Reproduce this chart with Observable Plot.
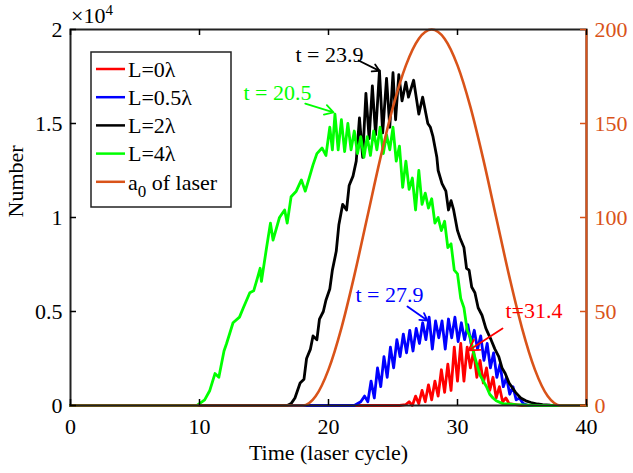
<!DOCTYPE html>
<html><head><meta charset="utf-8">
<script src="https://cdn.jsdelivr.net/npm/d3@7"></script>
<script src="https://cdn.jsdelivr.net/npm/@observablehq/plot@0.6"></script>
<style>body{margin:0;background:#fff}</style>
</head><body><div id="chart"></div>
<script>
// ---- tick labels ----
const xTicks = [0, 10, 20, 30, 40];
const yTicks = [0, 0.5, 1, 1.5, 2];          // Number, in units of 10^4
const a0Ticks = [0, 50, 100, 150, 200];      // right axis (a0 of laser)

// ---- series names / colours ----
const seriesNames = ["L=0λ", "L=0.5λ", "L=2λ", "L=4λ"];
const seriesColors = ["#FF0000", "#0000FF", "#000000", "#00FF00"];
const laserColor = "#D95319";

// ---- L = 0λ (red), Number ×10^4 ----
const t_L0 = [0,25.5,26.0,26.25,26.5,26.75,27.0,27.25,27.5,27.75,28.0,28.25,28.5,28.75,29.0,29.25,29.5,29.75,30.0,30.25,30.5,30.75,31.0,31.25,31.5,31.75,32.0,32.25,32.5,32.75,33.0,33.25,33.5,33.75,34.0,34.5,35,40];
const n_L0 = [0,0,0.005,0.02,0.0,0.05,0.01,0.08,0.02,0.11,0.03,0.13,0.05,0.19,0.07,0.22,0.08,0.31,0.13,0.33,0.13,0.31,0.20,0.29,0.15,0.24,0.12,0.20,0.08,0.15,0.04,0.10,0.02,0.04,0.01,0.005,0,0];

// ---- L = 0.5λ (blue) ----
const t_L05 = [0,22.0,22.5,22.8,23.05,23.3,23.55,23.8,24.05,24.3,24.55,24.8,25.05,25.3,25.55,25.8,26.05,26.3,26.55,26.8,27.05,27.3,27.55,27.8,28.05,28.3,28.55,28.8,29.05,29.3,29.55,29.8,30.05,30.3,30.55,30.8,31.05,31.3,31.55,31.8,32.05,32.3,32.55,32.8,33.05,33.3,33.55,33.8,34.05,34.3,34.55,34.8,35.1,35.5,40];
const n_L05 = [0,0,0.02,0.05,0.02,0.13,0.04,0.20,0.10,0.26,0.15,0.31,0.20,0.35,0.26,0.38,0.28,0.40,0.29,0.41,0.33,0.44,0.35,0.47,0.30,0.45,0.36,0.45,0.30,0.46,0.36,0.47,0.34,0.44,0.35,0.43,0.33,0.40,0.30,0.37,0.24,0.33,0.20,0.28,0.15,0.22,0.10,0.15,0.06,0.10,0.03,0.04,0.01,0,0];

// ---- L = 2λ (black) ----
const t_L2 = [0,16.8,17.1,17.4,17.8,18.1,18.3,18.6,18.8,19.1,19.3,19.6,19.8,20.1,20.3,20.6,20.8,21.1,21.4,21.6,21.9,22.15,22.4,22.65,22.9,23.15,23.4,23.65,23.95,24.2,24.5,24.75,25.0,25.2,25.45,25.7,26.0,26.2,26.6,27.0,27.3,27.7,27.9,28.1,28.4,28.5,28.8,29.1,29.3,29.5,29.7,30.0,30.2,30.5,30.7,30.9,31.1,31.35,31.6,31.9,32.2,32.4,32.6,32.9,33.2,33.45,33.7,34.0,34.2,34.5,34.9,35.3,35.7,36.2,36.6,37.2,37.8,40];
const n_L2 = [0,0,0.01,0.04,0.12,0.14,0.25,0.30,0.37,0.35,0.46,0.50,0.56,0.62,0.72,0.82,0.96,1.07,1.04,1.17,1.22,1.30,1.53,1.32,1.66,1.42,1.70,1.44,1.78,1.45,1.74,1.48,1.77,1.52,1.76,1.62,1.72,1.64,1.73,1.55,1.64,1.50,1.48,1.43,1.32,1.25,1.18,1.14,1.04,1.09,1.04,0.93,0.89,0.84,0.73,0.72,0.63,0.60,0.52,0.48,0.41,0.38,0.35,0.30,0.26,0.20,0.17,0.12,0.10,0.07,0.04,0.025,0.016,0.008,0.005,0.002,0,0];

// ---- L = 4λ (green) ----
const t_L4 = [0,9.8,10.0,10.4,10.8,11.2,11.5,11.9,12.1,12.6,13.1,13.4,13.9,14.2,14.5,14.7,14.8,15.2,15.5,15.7,16.2,16.6,16.8,17.1,17.5,17.9,18.2,18.5,18.8,19.1,19.5,19.8,20.1,20.3,20.5,20.75,21.0,21.25,21.5,21.75,22.0,22.25,22.5,22.75,23.0,23.25,23.5,23.75,24.0,24.25,24.5,24.75,25.0,25.25,25.5,25.75,26.0,26.25,26.5,26.75,27.0,27.25,27.5,27.75,28.0,28.25,28.5,28.75,29.0,29.25,29.5,29.75,30.0,30.25,30.5,30.75,31.0,31.25,31.5,31.75,32.0,32.25,32.5,32.75,33.0,33.5,34.5,36,40];
const n_L4 = [0,0,0.01,0.03,0.08,0.17,0.15,0.29,0.33,0.44,0.47,0.52,0.60,0.61,0.68,0.73,0.66,0.84,0.97,0.88,1.00,1.04,0.97,1.11,1.14,1.20,1.14,1.21,1.28,1.34,1.37,1.33,1.48,1.36,1.55,1.36,1.52,1.35,1.50,1.36,1.46,1.34,1.43,1.32,1.43,1.33,1.46,1.36,1.48,1.34,1.44,1.36,1.48,1.30,1.38,1.16,1.30,1.15,1.21,1.04,1.25,1.07,1.13,1.05,1.10,0.97,1.00,0.93,0.98,0.84,0.86,0.72,0.70,0.57,0.52,0.40,0.36,0.28,0.22,0.16,0.13,0.10,0.06,0.04,0.025,0.01,0.005,0,0];

// ---- a0 of laser (orange, right axis) ----
const t_a0 = [0,18,19,20,21,22,23,24,25,26,27,28,29,30,31,32,33,34,35,36,37,38,40];
const v_a0 = [0,0,4.9,19.1,41.2,69.1,100,130.9,158.8,180.9,195.1,200,195.1,180.9,158.8,130.9,100,69.1,41.2,19.1,4.9,0,0];

// ---- annotations (data coordinates: time, Number ×10^4) ----
const annText  = ["t = 23.9", "t = 20.5", "t = 27.9", "t=31.4"];
const annColor = ["#000000", "#00FF00", "#0000FF", "#FF0000"];
const annX  = [17.44, 13.41, 22.09, 33.72];
const annY  = [1.867, 1.665, 0.59, 0.505];
const arrX1 = [22.33, 18.2, 26.12, 33.49];
const arrY1 = [1.835, 1.606, 0.527, 0.41];
const arrX2 = [23.95, 20.39, 27.67, 30.85];
const arrY2 = [1.78, 1.559, 0.452, 0.293];

const toRows = (ts, vs) => ts.map((t, i) => ({t, v: vs[i]}));
const series = [toRows(t_L0, n_L0), toRows(t_L05, n_L05), toRows(t_L2, n_L2), toRows(t_L4, n_L4)];
const laser = toRows(t_a0, v_a0);

const W = 633, H = 473, mL = 70, mR = 47, mT = 29, mB = 68;
const pw = W - mL - mR, ph = H - mT - mB;
const FONT = "Liberation Serif";
const idx = d3.range(annText.length);

const plot = Plot.plot({
  width: W, height: H,
  marginLeft: mL, marginRight: mR, marginTop: mT, marginBottom: mB,
  style: {fontFamily: FONT, fontSize: "22px", background: "white", color: "black"},
  x: {domain: [0, 40]},
  y: {domain: [0, 2]},
  marks: [
    ...series.map((s, i) => Plot.line(s, {x: "t", y: "v", stroke: seriesColors[i], strokeWidth: 2.8})),
    Plot.line(laser, {x: "t", y: d => d.v / 100, stroke: laserColor, strokeWidth: 2.6, curve: "monotone-x"}),
    Plot.frame({stroke: "#222", strokeWidth: 2}),
    Plot.ruleX([40], {stroke: laserColor, strokeWidth: 2}),
    Plot.tickX(xTicks, {x: d => d, insetTop: ph - 6, stroke: "black", strokeWidth: 1.5}),
    Plot.tickX(xTicks, {x: d => d, insetBottom: ph - 6, stroke: "black", strokeWidth: 1.5}),
    Plot.tickY(yTicks, {y: d => d, insetRight: pw - 6, stroke: "black", strokeWidth: 1.5}),
    Plot.tickY(a0Ticks, {y: d => d / 100, insetLeft: pw - 6, stroke: laserColor, strokeWidth: 1.5}),
    Plot.axisX(xTicks, {tickSize: 0, tickPadding: 13, label: null, fontSize: 22, fontFamily: FONT,
      tickFormat: d => String(d)}),
    Plot.axisY(yTicks, {anchor: "left", tickSize: 0, tickPadding: 8, label: null, fontSize: 22, fontFamily: FONT,
      tickFormat: d => String(d)}),
    Plot.axisY(a0Ticks.map(d => d / 100), {anchor: "right", tickSize: 0, tickPadding: 8, label: null, fontSize: 22,
      fontFamily: FONT, color: laserColor, tickFormat: d => String(Math.round(d * 100))}),
    Plot.text(["Time (laser cycle)"], {frameAnchor: "bottom", dy: 54, fontSize: 22, fontFamily: FONT}),
    Plot.text(["Number"], {frameAnchor: "left", dx: -55, rotate: -90, fontSize: 22, fontFamily: FONT}),
    Plot.arrow(idx, {x1: i => arrX1[i], y1: i => arrY1[i], x2: i => arrX2[i], y2: i => arrY2[i],
      stroke: i => annColor[i], strokeWidth: 1.8, headLength: 10}),
    Plot.text(idx, {x: i => annX[i], y: i => annY[i], text: i => annText[i], fill: i => annColor[i],
      textAnchor: "start", fontSize: 22, fontFamily: FONT})
  ]
});

// ---- legend and ×10^4 exponent, added into the Plot SVG ----
const svg = d3.select(plot);
const lg = svg.append("g").attr("font-family", FONT).attr("font-size", 22).attr("text-anchor", "start");
lg.append("rect").attr("x", 91).attr("y", 52).attr("width", 140).attr("height", 155)
  .attr("fill", "white").attr("stroke", "#222").attr("stroke-width", 1.5);
const legendItems = seriesNames.map((n, i) => ({name: n, color: seriesColors[i]}))
  .concat([{name: "a0", color: laserColor, laser: true}]);
legendItems.forEach((it, i) => {
  const y = 69 + i * 28.2;
  lg.append("line").attr("x1", 96).attr("x2", 125).attr("y1", y).attr("y2", y)
    .attr("stroke", it.color).attr("stroke-width", 2.5);
  const tx = lg.append("text").attr("x", 128).attr("y", y).attr("dy", "0.35em")
    .attr("fill", "black").attr("text-anchor", "start");
  if (it.laser) {
    tx.append("tspan").text("a");
    tx.append("tspan").attr("dy", 7).attr("font-size", 17).text("0");
    tx.append("tspan").attr("dy", -7).text(" of laser");
  } else tx.text(it.name);
});
const ex = svg.append("text").attr("font-family", FONT).attr("x", 71).attr("y", 23)
  .attr("font-size", 22).attr("text-anchor", "start");
ex.append("tspan").text("×10");
ex.append("tspan").attr("dy", -8).attr("font-size", 15).text("4");

document.getElementById("chart").appendChild(plot);
</script>
</body></html>
